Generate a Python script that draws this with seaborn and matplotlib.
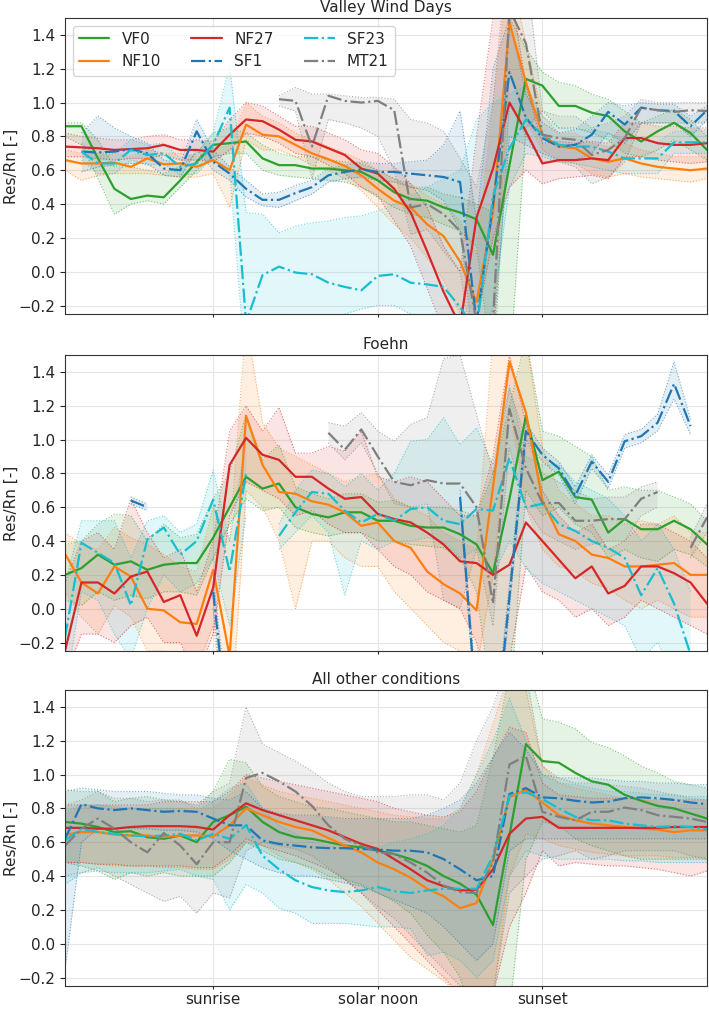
import numpy as np
import pandas as pd
import matplotlib
matplotlib.use("Agg")
import matplotlib.pyplot as plt
import seaborn as sns
from matplotlib.lines import Line2D

nan = np.nan

# ---------------- data ----------------
station_names = ["VF0", "NF10", "NF27", "SF1", "SF23", "MT21"]
panel_titles = ["Valley Wind Days", "Foehn", "All other conditions"]
tick_positions = [9, 19, 29]
tick_labels = ["sunrise", "solar noon", "sunset"]
time_index = list(range(40))

# Panel 1: Valley Wind Days
vwd_VF0_mean = [0.86,0.86,0.67,0.49,0.43,0.45,0.44,0.54,0.65,0.75,0.76,0.77,0.67,0.63,0.63,0.61,0.61,0.60,0.59,0.54,0.47,0.43,0.42,0.38,0.35,0.31,0.10,0.63,1.14,1.10,0.98,0.98,0.94,0.92,0.83,0.77,0.83,0.88,0.82,0.72]
vwd_VF0_lo = [0.80,0.75,0.55,0.34,0.40,0.42,0.40,0.50,0.60,0.68,0.70,0.70,0.60,0.57,0.56,0.55,0.54,0.53,0.50,0.44,0.38,0.34,0.32,0.28,0.24,0.15,-0.60,-0.60,0.85,0.95,0.85,0.85,0.82,0.78,0.70,0.68,0.72,0.78,0.72,0.66]
vwd_VF0_hi = [0.88,0.88,0.78,0.62,0.62,0.60,0.58,0.62,0.70,0.82,0.85,0.82,0.75,0.70,0.68,0.68,0.66,0.65,0.64,0.60,0.55,0.50,0.50,0.46,0.44,0.40,0.35,1.50,1.32,1.18,1.12,1.10,1.05,1.02,0.95,0.88,0.92,0.96,0.90,0.80]

vwd_NF10_mean = [0.66,0.64,0.64,0.645,0.62,0.67,0.635,0.64,0.62,0.66,0.60,0.87,0.81,0.80,0.75,0.70,0.665,0.625,0.57,0.49,0.42,0.38,0.28,0.21,0.06,-0.18,0.35,1.47,1.12,0.81,0.74,0.73,0.67,0.65,0.67,0.64,0.62,0.61,0.60,0.61]
vwd_NF10_lo = [0.60,0.54,0.57,0.58,0.58,0.58,0.57,0.56,0.56,0.58,0.38,0.78,0.72,0.72,0.68,0.63,0.60,0.55,0.48,0.38,0.28,0.20,0.08,-0.05,-0.25,-0.50,-0.40,1.20,0.90,0.72,0.66,0.64,0.58,0.56,0.58,0.56,0.55,0.54,0.53,0.55]
vwd_NF10_hi = [0.72,0.70,0.70,0.70,0.68,0.72,0.70,0.70,0.68,0.72,0.75,1.00,0.92,0.88,0.82,0.78,0.74,0.70,0.66,0.60,0.55,0.52,0.45,0.40,0.30,0.10,1.00,1.80,1.35,0.92,0.82,0.82,0.76,0.74,0.76,0.72,0.70,0.68,0.68,0.68]

vwd_NF27_mean = [0.74,0.735,0.73,0.72,0.725,0.73,0.75,0.72,0.72,0.71,0.81,0.90,0.89,0.84,0.78,0.77,0.73,0.69,0.61,0.58,0.49,0.35,0.12,-0.12,-0.32,0.32,0.61,1.00,0.83,0.64,0.66,0.66,0.67,0.66,0.79,0.79,0.76,0.75,0.75,0.76]
vwd_NF27_lo = [0.68,0.68,0.67,0.66,0.67,0.67,0.69,0.66,0.66,0.65,0.72,0.82,0.80,0.76,0.70,0.68,0.63,0.58,0.50,0.45,0.30,0.15,-0.10,-0.35,-0.60,-0.30,0.20,0.50,0.60,0.52,0.55,0.56,0.57,0.55,0.68,0.68,0.66,0.65,0.64,0.65]
vwd_NF27_hi = [0.82,0.80,0.79,0.78,0.78,0.80,0.81,0.78,0.78,0.77,0.90,1.00,0.98,0.92,0.86,0.86,0.82,0.78,0.72,0.70,0.62,0.52,0.38,0.15,0.00,0.80,1.50,1.70,1.10,0.76,0.77,0.76,0.77,0.76,0.88,0.88,0.86,0.86,0.85,0.85]

vwd_SF1_mean = [nan,0.71,0.705,0.71,0.725,0.70,0.61,0.60,0.83,0.65,0.58,0.49,0.425,0.425,0.465,0.50,0.57,0.59,0.605,0.59,0.59,0.58,0.57,0.56,0.53,-0.30,0.40,1.18,0.91,0.79,0.74,0.75,0.81,0.945,0.87,0.97,0.955,0.95,0.86,0.955]
vwd_SF1_lo = [nan,0.59,0.62,0.63,0.64,0.64,0.57,0.56,0.72,0.60,0.54,0.44,0.39,0.38,0.42,0.46,0.53,0.55,0.56,0.54,0.53,0.50,0.48,0.42,0.25,-0.60,-0.40,0.80,0.75,0.70,0.66,0.66,0.70,0.82,0.76,0.88,0.88,0.88,0.80,0.90]
vwd_SF1_hi = [nan,0.82,0.92,0.85,0.80,0.76,0.66,0.64,0.90,0.72,0.62,0.54,0.46,0.47,0.51,0.54,0.61,0.63,0.65,0.64,0.64,0.65,0.66,0.75,0.95,0.30,1.20,1.50,1.05,0.88,0.82,0.84,0.92,1.00,0.98,1.00,0.99,0.99,0.92,0.98]

vwd_SF23_mean = [nan,0.71,0.64,0.64,0.72,0.69,0.70,0.62,0.64,0.75,0.97,-0.30,-0.02,0.03,-0.005,-0.015,-0.065,-0.09,-0.11,-0.025,-0.015,-0.065,-0.075,-0.09,-0.21,-0.35,0.45,0.73,0.90,0.81,0.75,0.74,0.74,0.71,0.67,0.67,0.67,0.765,0.765,0.765]
vwd_SF23_lo = [nan,0.66,0.58,0.58,0.66,0.63,0.64,0.57,0.58,0.68,0.60,-0.60,-0.30,-0.25,-0.30,-0.35,-0.30,-0.25,-0.22,-0.20,-0.20,-0.25,-0.28,-0.40,-0.60,-0.60,-0.20,0.50,0.70,0.68,0.65,0.64,0.62,0.60,0.58,0.58,0.58,0.70,0.70,0.70]
vwd_SF23_hi = [nan,0.76,0.68,0.70,0.78,0.75,0.76,0.67,0.70,0.82,1.22,0.35,0.34,0.23,0.27,0.29,0.30,0.32,0.33,0.36,0.40,0.45,0.50,0.55,0.60,0.90,1.00,1.05,1.10,0.92,0.85,0.84,0.84,0.82,0.78,0.77,0.77,0.83,0.83,0.84]

vwd_MT21_mean = [nan]*13 + [1.02,1.01,0.74,1.04,1.01,1.00,1.01,0.955,0.38,0.40,0.34,0.24,-0.30,-0.30,1.55,1.35,0.81,0.79,0.78,0.69,0.72,0.79,0.97,0.955,0.945,0.955,0.95]
vwd_MT21_lo = [nan]*13 + [0.98,0.95,0.55,0.90,0.88,0.85,0.80,0.60,0.22,0.25,0.12,0.00,-0.60,-0.60,1.00,0.80,0.65,0.65,0.62,0.52,0.56,0.65,0.88,0.88,0.88,0.88,0.88]
vwd_MT21_hi = [nan]*13 + [1.04,1.09,1.05,1.05,1.04,1.03,1.03,1.02,0.90,0.88,0.83,0.67,0.50,1.00,2.00,1.80,0.95,0.92,0.92,0.85,0.88,0.92,1.02,1.00,1.00,1.00,1.00]

# Panel 2: Foehn
foehn_VF0_mean = [0.20,0.24,0.32,0.26,0.28,0.23,0.26,0.27,0.27,0.42,0.60,0.78,0.71,0.74,0.60,0.56,0.54,0.57,0.57,0.52,0.52,0.49,0.48,0.48,0.44,0.38,0.21,0.65,1.14,0.76,0.81,0.66,0.645,0.45,0.53,0.47,0.47,0.52,0.47,0.38]
foehn_VF0_lo = [0.05,0.02,0.10,0.05,0.08,0.06,0.10,0.10,0.08,0.30,0.50,0.65,0.58,0.60,0.48,0.45,0.43,0.45,0.45,0.40,0.40,0.38,0.37,0.36,0.30,0.10,-0.60,-0.60,0.70,0.55,0.60,0.50,0.45,0.30,0.35,0.30,0.28,0.35,0.32,0.25]
foehn_VF0_hi = [0.38,0.40,0.50,0.56,0.55,0.40,0.50,0.42,0.44,0.65,0.80,1.15,0.88,0.97,0.72,0.68,0.65,0.68,0.68,0.63,0.64,0.60,0.60,0.60,0.58,0.55,0.80,1.20,1.60,1.05,1.02,0.96,0.90,0.70,0.72,0.70,0.70,0.66,0.62,0.52]

foehn_NF10_mean = [0.325,0.155,0.09,0.25,0.19,0.0,-0.01,-0.08,-0.09,0.23,-0.28,1.14,0.85,0.69,0.68,0.635,0.615,0.57,0.49,0.51,0.40,0.36,0.22,0.145,0.09,-0.01,0.72,1.46,1.16,0.64,0.44,0.40,0.32,0.30,0.25,0.25,0.26,0.27,0.20,0.20]
foehn_NF10_lo = [0.10,-0.05,-0.15,0.02,-0.05,-0.25,-0.25,-0.30,-0.35,-0.10,-0.80,0.70,0.60,0.40,0.00,0.40,0.40,0.30,0.25,0.25,0.10,0.00,-0.10,-0.20,-0.25,-0.35,0.20,1.20,0.60,0.35,0.25,0.22,0.15,0.12,0.05,0.00,0.05,0.00,-0.05,-0.05]
foehn_NF10_hi = [0.45,0.38,0.35,0.48,0.42,0.38,0.32,0.25,0.22,0.60,0.40,1.70,1.10,0.95,0.90,0.85,0.80,0.75,0.78,0.80,0.65,0.60,0.55,0.45,0.40,0.35,1.60,1.80,1.60,0.95,0.70,0.62,0.55,0.55,0.50,0.52,0.50,0.55,0.45,0.45]

foehn_NF27_mean = [-0.25,0.155,0.155,0.09,0.19,0.22,0.04,0.08,-0.16,0.125,0.85,1.01,0.91,0.88,0.78,0.78,0.71,0.65,0.66,0.56,0.53,0.51,0.45,0.38,0.28,0.27,0.20,0.26,0.51,0.40,0.29,0.18,0.25,0.09,0.135,0.25,0.25,0.21,0.155,0.03]
foehn_NF27_lo = [-0.40,-0.15,-0.15,-0.20,-0.10,-0.05,-0.20,-0.20,-0.40,-0.15,0.55,0.75,0.70,0.65,0.55,0.58,0.50,0.45,0.45,0.35,0.25,0.20,0.10,0.05,0.00,-0.20,-0.60,-0.30,0.25,0.10,0.05,-0.05,0.00,-0.10,-0.05,0.05,0.00,-0.05,-0.10,-0.15]
foehn_NF27_hi = [0.15,0.40,0.45,0.35,0.65,0.45,0.30,0.35,0.10,0.40,1.05,1.20,1.05,1.19,0.92,0.92,0.96,0.93,1.05,0.78,0.75,0.78,0.75,0.65,0.55,0.55,0.90,1.50,1.10,0.70,0.55,0.45,0.50,0.35,0.40,0.50,0.50,0.45,0.40,0.30]

foehn_SF1_mean = [nan,nan,nan,nan,0.64,0.60,nan,nan,nan,0.10,-0.80] + [nan]*13 + [0.66,-0.60,-0.90,0.07,1.05,0.91,0.83,0.67,0.87,0.75,0.99,1.02,1.10,1.33,1.08,nan]
foehn_SF1_lo = [nan,nan,nan,nan,0.62,0.58,nan,nan,nan,0.00,-0.90] + [nan]*13 + [0.62,-0.70,-1.00,0.00,1.00,0.87,0.79,0.62,0.83,0.71,0.95,0.98,1.05,1.24,1.03,nan]
foehn_SF1_hi = [nan,nan,nan,nan,0.66,0.62,nan,nan,nan,0.20,-0.70] + [nan]*13 + [0.70,-0.50,-0.80,0.15,1.10,0.95,0.87,0.72,0.91,0.79,1.03,1.06,1.15,1.46,1.12,nan]

foehn_SF23_mean = [-0.17,0.39,0.33,0.27,0.02,0.41,0.48,0.32,0.40,0.645,0.22,0.80,nan,0.43,0.57,0.69,0.68,0.58,0.51,0.56,0.52,0.59,0.60,0.52,0.50,0.59,0.58,0.89,0.60,0.62,0.50,0.46,0.40,0.36,0.30,0.08,0.24,0.03,-0.27,nan]
foehn_SF23_lo = [-0.50,0.10,0.05,-0.15,-0.30,0.00,0.20,0.10,0.15,0.30,-0.10,0.55,nan,0.35,0.45,0.55,0.45,0.08,0.40,0.35,0.40,0.40,0.42,0.40,0.30,0.35,0.20,0.40,0.24,0.15,0.10,0.05,0.00,-0.05,-0.10,-0.30,-0.20,-0.40,-0.60,nan]
foehn_SF23_hi = [0.15,0.52,0.52,0.52,0.30,0.52,0.55,0.45,0.50,0.82,0.40,1.00,nan,0.50,0.70,0.82,0.80,0.72,0.80,0.70,0.80,0.99,1.00,1.13,0.97,1.07,0.85,1.32,0.90,0.85,0.85,0.75,0.70,0.65,0.55,0.40,0.50,0.35,0.10,nan]

foehn_MT21_mean = [nan]*16 + [1.04,0.94,1.06,0.90,0.75,0.73,0.76,0.74,0.74,0.60,0.03,1.18,0.83,0.625,0.625,0.52,0.52,0.53,0.53,0.65,0.69,nan,0.36,0.54]
foehn_MT21_lo = [nan]*16 + [0.98,0.88,0.98,0.80,0.62,0.60,0.62,0.05,0.00,0.35,-0.10,0.95,0.60,0.45,0.40,0.35,0.38,0.40,0.40,0.55,0.60,nan,0.30,0.45]
foehn_MT21_hi = [nan]*16 + [1.10,1.08,1.16,1.05,0.99,1.09,1.13,1.48,1.50,1.15,0.80,1.30,1.00,0.80,0.75,0.70,0.65,0.66,0.66,0.72,0.75,nan,0.42,0.62]

# Panel 3: All other conditions
other_VF0_mean = [0.72,0.71,0.69,0.66,0.665,0.63,0.62,0.64,0.60,0.72,0.76,0.81,0.72,0.66,0.63,0.62,0.60,0.58,0.57,0.55,0.53,0.50,0.46,0.40,0.355,0.29,0.11,0.64,1.18,1.08,1.07,1.01,0.96,0.94,0.88,0.845,0.815,0.80,0.77,0.74]
other_VF0_lo = [0.48,0.46,0.43,0.38,0.42,0.40,0.42,0.40,0.40,0.40,0.48,0.60,0.55,0.50,0.48,0.45,0.40,0.38,0.35,0.30,0.25,0.18,0.05,-0.05,-0.20,-0.50,-0.80,-0.40,0.50,0.72,0.70,0.62,0.58,0.55,0.52,0.50,0.50,0.50,0.50,0.50]
other_VF0_hi = [0.91,0.90,0.90,0.84,0.86,0.87,0.85,0.84,0.82,0.90,1.09,1.07,0.93,0.87,0.84,0.81,0.80,0.78,0.76,0.74,0.72,0.72,0.70,0.68,0.66,0.70,1.10,1.60,1.70,1.33,1.31,1.27,1.19,1.16,1.11,1.05,1.01,0.96,0.94,0.92]

other_NF10_mean = [0.645,0.66,0.66,0.645,0.64,0.64,0.63,0.64,0.64,0.635,0.70,0.80,0.76,0.72,0.69,0.67,0.625,0.58,0.54,0.48,0.44,0.39,0.325,0.28,0.21,0.24,0.50,0.865,0.91,0.835,0.76,0.73,0.71,0.70,0.69,0.68,0.675,0.66,0.67,0.67]
other_NF10_lo = [0.48,0.48,0.47,0.46,0.46,0.46,0.45,0.45,0.44,0.44,0.50,0.60,0.58,0.52,0.48,0.44,0.38,0.30,0.22,0.12,0.02,-0.08,-0.15,-0.22,-0.30,-0.40,-0.30,0.40,0.65,0.62,0.58,0.56,0.54,0.53,0.52,0.52,0.52,0.51,0.51,0.51]
other_NF10_hi = [0.78,0.80,0.82,0.80,0.80,0.80,0.80,0.80,0.80,0.80,0.88,0.98,0.94,0.90,0.88,0.86,0.84,0.82,0.80,0.78,0.76,0.75,0.74,0.74,0.80,1.00,1.30,1.60,1.50,1.05,0.95,0.92,0.90,0.88,0.86,0.85,0.84,0.83,0.82,0.82]

other_NF27_mean = [0.685,0.685,0.68,0.68,0.69,0.695,0.695,0.695,0.69,0.675,0.76,0.83,0.79,0.76,0.73,0.70,0.67,0.63,0.59,0.56,0.50,0.44,0.375,0.34,0.315,0.32,0.44,0.65,0.74,0.75,0.685,0.685,0.685,0.685,0.685,0.685,0.685,0.69,0.69,0.69]
other_NF27_lo = [0.48,0.48,0.47,0.47,0.46,0.46,0.46,0.46,0.45,0.45,0.52,0.62,0.58,0.55,0.52,0.48,0.44,0.38,0.30,0.20,0.10,0.00,-0.10,-0.20,-0.30,-0.40,-0.30,0.10,0.30,0.55,0.46,0.48,0.47,0.46,0.46,0.45,0.44,0.42,0.40,0.43]
other_NF27_hi = [0.82,0.82,0.82,0.82,0.82,0.82,0.84,0.84,0.84,0.84,0.90,1.00,0.98,0.96,0.94,0.92,0.90,0.88,0.86,0.84,0.80,0.78,0.76,0.75,0.78,0.90,1.10,1.28,1.25,0.95,0.88,0.87,0.86,0.86,0.86,0.85,0.85,0.85,0.85,0.85]

other_SF1_mean = [0.62,0.825,0.80,0.79,0.80,0.79,0.78,0.785,0.78,0.74,0.70,0.70,0.61,0.59,0.58,0.57,0.565,0.565,0.56,0.557,0.55,0.55,0.54,0.50,0.44,0.375,0.40,0.885,0.92,0.865,0.86,0.845,0.835,0.84,0.86,0.865,0.86,0.85,0.835,0.825]
other_SF1_lo = [-0.15,0.60,0.68,0.68,0.68,0.68,0.67,0.67,0.66,0.62,0.55,0.50,0.45,0.42,0.40,0.40,0.38,0.36,0.34,0.30,0.26,0.22,0.18,0.10,0.00,-0.10,0.00,0.55,0.62,0.62,0.62,0.62,0.62,0.62,0.62,0.62,0.62,0.62,0.62,0.62]
other_SF1_hi = [0.90,0.92,0.91,0.90,0.90,0.90,0.89,0.88,0.88,0.86,0.85,0.90,0.80,0.77,0.76,0.76,0.75,0.74,0.74,0.74,0.74,0.74,0.76,0.80,0.85,0.95,1.10,1.25,1.15,1.00,0.98,0.98,0.98,0.97,0.96,0.96,0.95,0.95,0.94,0.94]

other_SF23_mean = [0.61,0.68,0.66,0.65,0.64,0.635,0.64,0.65,0.61,0.65,0.62,0.70,0.52,0.44,0.375,0.335,0.315,0.305,0.315,0.335,0.31,0.30,0.315,0.325,0.325,0.325,0.52,0.875,0.895,0.855,0.80,0.75,0.73,0.73,0.71,0.70,0.69,0.695,0.69,0.675]
other_SF23_lo = [0.35,0.42,0.43,0.42,0.42,0.42,0.43,0.44,0.40,0.38,0.20,0.35,0.30,0.21,0.18,0.12,0.12,0.12,0.11,0.10,0.10,0.09,-0.07,-0.05,-0.10,-0.20,-0.10,0.40,0.55,0.52,0.50,0.50,0.50,0.50,0.49,0.49,0.48,0.48,0.48,0.48]
other_SF23_hi = [0.78,0.82,0.82,0.81,0.80,0.80,0.80,0.80,0.78,0.84,0.92,0.95,0.80,0.70,0.65,0.60,0.58,0.56,0.56,0.57,0.60,0.62,0.65,0.70,0.80,1.00,1.20,1.45,1.20,1.00,0.95,0.94,0.92,0.90,0.90,0.89,0.88,0.88,0.87,0.87]

other_MT21_mean = [0.58,0.68,0.74,0.68,0.60,0.54,0.655,0.58,0.47,0.60,0.60,0.98,1.01,0.96,0.90,0.815,0.70,0.62,0.58,0.54,0.53,0.48,0.42,0.345,0.305,0.30,0.48,1.06,1.11,0.78,0.75,0.73,0.78,0.78,0.805,0.79,0.76,0.75,0.74,0.72]
other_MT21_lo = [0.40,0.42,0.45,0.40,0.35,0.30,0.25,0.28,0.18,0.30,0.27,0.55,0.60,0.58,0.56,0.52,0.45,0.38,0.30,0.22,0.15,0.05,-0.05,-0.15,-0.25,-0.35,-0.30,0.30,0.40,0.50,0.52,0.55,0.50,0.52,0.55,0.55,0.55,0.55,0.52,0.50]
other_MT21_hi = [0.82,0.85,0.90,0.86,0.86,0.84,0.85,0.85,0.80,0.90,0.95,1.40,1.18,1.13,1.08,1.02,0.95,0.90,0.87,0.87,0.87,0.88,0.88,0.85,0.95,1.20,1.40,1.70,1.60,1.05,0.98,0.95,0.95,0.94,0.93,0.92,0.90,0.88,0.86,0.85]

# ---------------- assemble ----------------
panel_data = [
    {"VF0": (vwd_VF0_mean, vwd_VF0_lo, vwd_VF0_hi), "NF10": (vwd_NF10_mean, vwd_NF10_lo, vwd_NF10_hi),
     "NF27": (vwd_NF27_mean, vwd_NF27_lo, vwd_NF27_hi), "SF1": (vwd_SF1_mean, vwd_SF1_lo, vwd_SF1_hi),
     "SF23": (vwd_SF23_mean, vwd_SF23_lo, vwd_SF23_hi), "MT21": (vwd_MT21_mean, vwd_MT21_lo, vwd_MT21_hi)},
    {"VF0": (foehn_VF0_mean, foehn_VF0_lo, foehn_VF0_hi), "NF10": (foehn_NF10_mean, foehn_NF10_lo, foehn_NF10_hi),
     "NF27": (foehn_NF27_mean, foehn_NF27_lo, foehn_NF27_hi), "SF1": (foehn_SF1_mean, foehn_SF1_lo, foehn_SF1_hi),
     "SF23": (foehn_SF23_mean, foehn_SF23_lo, foehn_SF23_hi), "MT21": (foehn_MT21_mean, foehn_MT21_lo, foehn_MT21_hi)},
    {"VF0": (other_VF0_mean, other_VF0_lo, other_VF0_hi), "NF10": (other_NF10_mean, other_NF10_lo, other_NF10_hi),
     "NF27": (other_NF27_mean, other_NF27_lo, other_NF27_hi), "SF1": (other_SF1_mean, other_SF1_lo, other_SF1_hi),
     "SF23": (other_SF23_mean, other_SF23_lo, other_SF23_hi), "MT21": (other_MT21_mean, other_MT21_lo, other_MT21_hi)},
]

colors = {"VF0": "#2ca02c", "NF10": "#ff7f0e", "NF27": "#d62728",
          "SF1": "#1f77b4", "SF23": "#17becf", "MT21": "#7f7f7f"}
styles = {"VF0": "-", "NF10": "-", "NF27": "-", "SF1": "-.", "SF23": "-.", "MT21": "-."}

sns.set_style("whitegrid", {"axes.edgecolor": "0.2", "grid.color": "0.9",
                            "xtick.bottom": True, "ytick.left": True,
                            "xtick.color": "0.15", "ytick.color": "0.15"})
plt.rcParams["font.family"] = ["DejaVu Sans"]
plt.rcParams["font.size"] = 11

fig = plt.figure(figsize=(7.09, 10.11), dpi=100)
W, H = 709.0, 1011.0
left = 65 / W
width = (707 - 65) / W
ph = 296 / H
tops = [18, 355, 690]
axes = [fig.add_axes([left, 1 - (t + 296) / H, width, ph]) for t in tops]

x = np.array(time_index, dtype=float)
for ax, title, pdata in zip(axes, panel_titles, panel_data):
    for name in station_names:
        mean, lo, hi = (np.array(a, dtype=float) for a in pdata[name])
        c = colors[name]
        ax.fill_between(x, lo, hi, color=c, alpha=0.12, linewidth=0)
        ax.plot(x, lo, ls=":", color=c, lw=0.8, alpha=0.6)
        ax.plot(x, hi, ls=":", color=c, lw=0.8, alpha=0.6)
    for name in station_names:
        mean = np.array(pdata[name][0], dtype=float)
        valid = ~np.isnan(mean)
        seg = np.cumsum(~valid)
        df = pd.DataFrame({"x": x[valid], "y": mean[valid], "seg": seg[valid]})
        sns.lineplot(data=df, x="x", y="y", units="seg", estimator=None,
                     color=colors[name], linestyle=styles[name], lw=1.6,
                     ax=ax, legend=False)
    ax.set_xlim(0, 39)
    ax.set_ylim(-0.25, 1.5)
    ax.set_yticks(np.round(np.arange(-0.2, 1.41, 0.2), 1))
    ax.set_xticks(tick_positions)
    ax.set_xlabel("")
    ax.set_ylabel("Res/Rn [-]", fontsize=11)
    ax.yaxis.set_label_coords(-0.072, 0.5)
    ax.set_title(title, fontsize=11, pad=4)
    ax.tick_params(labelsize=11)
    ax.tick_params(axis="x", length=2.5, pad=1.5)
    for sp in ax.spines.values():
        sp.set_color("0.2")

for ax in axes[:2]:
    ax.set_xticklabels([])
axes[2].set_xticklabels(tick_labels)

handles = [Line2D([0], [0], color=colors[n], ls=styles[n], lw=1.6) for n in station_names]
axes[0].legend(handles, station_names, ncol=3, loc="upper left", fontsize=11, frameon=True)

fig.savefig("out.png", dpi=100)
